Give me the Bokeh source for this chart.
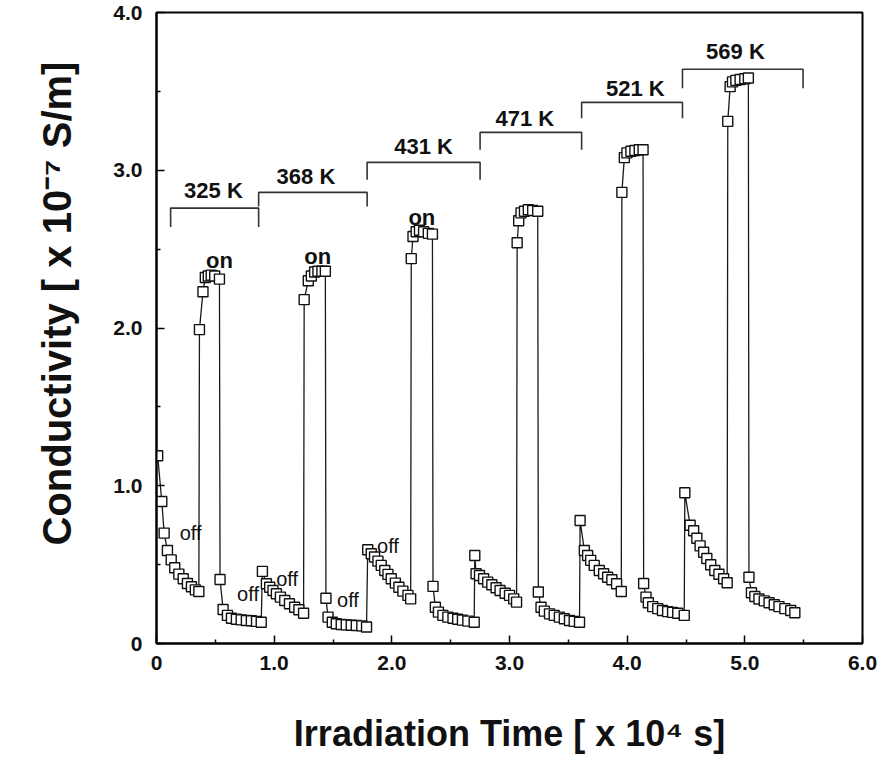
from bokeh.plotting import figure
from bokeh.models import FixedTicker, ColumnDataSource, Title
from bokeh.core.properties import value
from bokeh.embed import file_html
from bokeh.resources import INLINE

# ---- data: irradiation time [x 1e4 s] and conductivity [x 1e-7 S/m] ----
t_325 = [0.01, 0.045, 0.065, 0.093, 0.125, 0.155, 0.19, 0.227, 0.263, 0.297, 0.33, 0.36,
         0.365, 0.395, 0.415, 0.44, 0.465, 0.495, 0.535,
         0.54, 0.566, 0.603, 0.637, 0.679, 0.72, 0.764, 0.806, 0.85, 0.89]
s_325 = [1.19, 0.90, 0.70, 0.59, 0.53, 0.48, 0.44, 0.41, 0.38, 0.36, 0.34, 0.33,
         1.99, 2.23, 2.32, 2.33, 2.335, 2.33, 2.31,
         0.406, 0.216, 0.178, 0.16, 0.154, 0.15, 0.146, 0.144, 0.14, 0.135]

t_368 = [0.9, 0.934, 0.962, 0.99, 1.019, 1.053, 1.09, 1.13, 1.174, 1.21, 1.25,
         1.255, 1.29, 1.316, 1.344, 1.372, 1.406, 1.435,
         1.44, 1.458, 1.494, 1.528, 1.57, 1.613, 1.655, 1.698, 1.745, 1.785]
s_368 = [0.457, 0.379, 0.357, 0.336, 0.315, 0.294, 0.273, 0.252, 0.23, 0.214, 0.192,
         2.18, 2.30, 2.33, 2.355, 2.36, 2.36, 2.36,
         0.287, 0.167, 0.135, 0.125, 0.12, 0.118, 0.116, 0.114, 0.112, 0.105]

t_431 = [1.795, 1.825, 1.853, 1.882, 1.91, 1.94, 1.967, 1.995, 2.03, 2.06, 2.094, 2.137, 2.16,
         2.165, 2.18, 2.207, 2.235, 2.27, 2.31, 2.345,
         2.35, 2.37, 2.396, 2.434, 2.476, 2.52, 2.56, 2.60, 2.646, 2.70]
s_431 = [0.594, 0.569, 0.548, 0.522, 0.495, 0.463, 0.438, 0.41, 0.383, 0.357, 0.332, 0.305, 0.283,
         2.44, 2.58, 2.61, 2.62, 2.61, 2.60, 2.595,
         0.362, 0.23, 0.199, 0.178, 0.167, 0.16, 0.154, 0.148, 0.142, 0.135]

t_471 = [2.705, 2.716, 2.745, 2.78, 2.815, 2.85, 2.886, 2.92, 2.963, 3.0, 3.036, 3.06,
         3.065, 3.078, 3.098, 3.127, 3.16, 3.197, 3.24,
         3.245, 3.268, 3.296, 3.34, 3.38, 3.424, 3.466, 3.51, 3.55, 3.595]
s_471 = [0.558, 0.442, 0.431, 0.41, 0.389, 0.372, 0.353, 0.336, 0.319, 0.305, 0.283, 0.262,
         2.54, 2.68, 2.73, 2.74, 2.75, 2.745, 2.74,
         0.326, 0.23, 0.205, 0.188, 0.178, 0.167, 0.157, 0.146, 0.14, 0.135]

t_521 = [3.6, 3.636, 3.664, 3.69, 3.72, 3.763, 3.8, 3.834, 3.87, 3.91, 3.95,
         3.955, 3.976, 3.998, 4.032, 4.066, 4.103, 4.135,
         4.14, 4.16, 4.18, 4.217, 4.26, 4.3, 4.344, 4.386, 4.43, 4.485]
s_521 = [0.78, 0.59, 0.558, 0.527, 0.495, 0.463, 0.442, 0.42, 0.404, 0.379, 0.33,
         2.86, 3.08, 3.11, 3.12, 3.125, 3.13, 3.13,
         0.38, 0.294, 0.258, 0.234, 0.221, 0.209, 0.202, 0.197, 0.192, 0.178]

t_569 = [4.49, 4.535, 4.565, 4.592, 4.62, 4.65, 4.677, 4.71, 4.745, 4.78, 4.82, 4.85,
         4.855, 4.875, 4.895, 4.924, 4.96, 5.0, 5.03,
         5.035, 5.056, 5.085, 5.12, 5.165, 5.206, 5.25, 5.29, 5.34, 5.39, 5.425]
s_569 = [0.956, 0.75, 0.715, 0.667, 0.619, 0.578, 0.539, 0.499, 0.463, 0.439, 0.41, 0.385,
         3.31, 3.53, 3.56, 3.57, 3.575, 3.58, 3.585,
         0.42, 0.322, 0.298, 0.282, 0.27, 0.258, 0.246, 0.234, 0.221, 0.209, 0.195]

# temperature brackets
temp_labels = ["325 K", "368 K", "431 K", "471 K", "521 K", "569 K"]
bracket_start = [0.12, 0.868, 1.79, 2.75, 3.613, 4.47]
bracket_end = [0.868, 1.79, 2.75, 3.613, 4.47, 5.495]
bracket_level = [2.76, 2.86, 3.05, 3.24, 3.43, 3.64]
bracket_tick = [0.12, 0.09, 0.11, 0.11, 0.10, 0.12]
label_x = [0.484, 1.27, 2.27, 3.13, 4.07, 4.92]
label_y = [2.87, 2.96, 3.15, 3.33, 3.52, 3.75]

# on / off annotations
on_x = [0.535, 1.37, 2.255]
on_y = [2.43, 2.455, 2.70]
off_x = [0.29, 0.778, 1.11, 1.627, 1.967]
off_y = [0.70, 0.315, 0.41, 0.273, 0.62]

x_ticks = [0, 1, 2, 3, 4, 5, 6]
x_tick_labels = ["0", "1.0", "2.0", "3.0", "4.0", "5.0", "6.0"]
y_ticks = [0, 1, 2, 3, 4]
y_tick_labels = ["0", "1.0", "2.0", "3.0", "4.0"]

x_title = "Irradiation Time [ x 10\u2074 s]"
y_title = "Conductivity  [ x 10\u207b\u2077 S/m]"

FONT = "Liberation Sans"

t_all = t_325 + t_368 + t_431 + t_471 + t_521 + t_569
s_all = s_325 + s_368 + s_431 + s_471 + s_521 + s_569

p = figure(width=893, height=762, x_range=(0, 6), y_range=(0, 4),
           output_backend="svg", toolbar_location=None,
           min_border_left=155, min_border_right=31,
           min_border_top=12, min_border_bottom=119)
p.background_fill_color = "white"
p.border_fill_color = "white"
p.grid.visible = False
p.outline_line_color = "black"
p.outline_line_width = 2

src = ColumnDataSource(dict(t=t_all, s=s_all))
p.line("t", "s", source=src, line_color="#1a1a1a", line_width=1.3)
p.scatter("t", "s", source=src, marker="square", size=10,
          fill_color="white", line_color="#111111", line_width=1.4)

# brackets
bx = [[a, a, b, b] for a, b in zip(bracket_start, bracket_end)]
by = [[lv - d, lv, lv, lv - d] for lv, d in zip(bracket_level, bracket_tick)]
p.multi_line(bx, by, line_color="#333333", line_width=1.6)

p.text(label_x, label_y, text=temp_labels, text_font=value(FONT),
       text_font_style="bold", text_font_size="22px",
       text_align="center", text_baseline="middle", text_color="#111111")
p.text(on_x, on_y, text=["on"] * len(on_x), text_font=value(FONT),
       text_font_style="bold", text_font_size="22px",
       text_align="center", text_baseline="middle", text_color="#111111")
p.text(off_x, off_y, text=["off"] * len(off_x), text_font=value(FONT),
       text_font_size="20px",
       text_align="center", text_baseline="middle", text_color="#111111")

# axes
for ax, ticks, labels in ((p.xaxis[0], x_ticks, x_tick_labels),
                          (p.yaxis[0], y_ticks, y_tick_labels)):
    minors = [v + 0.5 for v in ticks[:-1]]
    ax.ticker = FixedTicker(ticks=ticks, minor_ticks=minors)
    ax.major_label_overrides = {k: v for k, v in zip(ticks, labels)}
    ax.axis_line_width = 2
    ax.axis_line_color = "black"
    ax.major_tick_in = 8
    ax.major_tick_out = 0
    ax.minor_tick_in = 4
    ax.minor_tick_out = 0
    ax.major_tick_line_width = 1.5
    ax.minor_tick_line_width = 1.5
    ax.major_label_text_font = FONT
    ax.major_label_text_font_style = "bold"
    ax.major_label_text_font_size = "21px"
    ax.major_label_text_color = "#111111"

p.xaxis.major_label_standoff = 12
p.yaxis.major_label_standoff = 14

# x title as the axis label
p.xaxis.axis_label = x_title
p.xaxis.axis_label_standoff = 40
p.xaxis.axis_label_text_font = FONT
p.xaxis.axis_label_text_font_style = "bold"
p.xaxis.axis_label_text_font_size = "36px"
p.xaxis.axis_label_text_color = "#111111"

# y title as a side-panel title, offset upward like the original
p.add_layout(Title(text=y_title, align="left", offset=98, standoff=64,
                   text_font=FONT, text_font_style="bold", text_font_size="40px",
                   text_color="#111111"), "left")

open("out.html", "w").write(file_html(p, INLINE))
